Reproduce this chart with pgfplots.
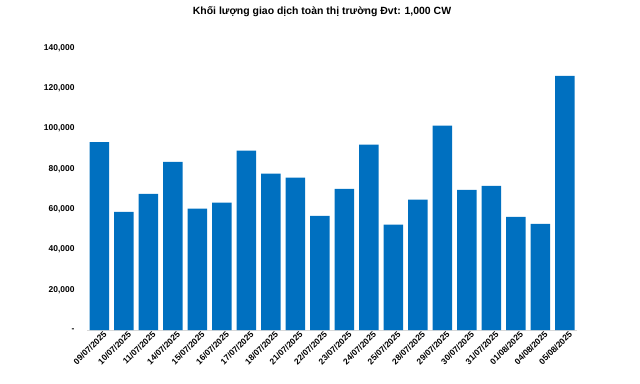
\documentclass[border=0pt]{standalone}
\usepackage{pgfplots}
\pgfplotsset{compat=1.18}
\usepackage{fontspec}
\setmainfont{Liberation Sans}
\definecolor{barblue}{HTML}{0070C0}
\definecolor{axgray}{HTML}{D9D9D9}
\begin{document}
\begin{tikzpicture}
\useasboundingbox (0,0) rectangle (640bp,384bp);
\node[font=\bfseries\fontsize{10.5}{12}\selectfont] at (322bp,372bp) {Khối lượng giao dịch toàn thị trường Đvt: 1,000 CW};
\begin{axis}[
  at={(87bp,54bp)}, anchor=south west,
  scale only axis, width=490bp, height=282bp,
  ymin=0, ymax=140000,
  xmin=-0.5, xmax=19.5,
  scaled y ticks=false,
  ytick={0,20000,40000,60000,80000,100000,120000,140000},
  yticklabels={-,{20,000},{40,000},{60,000},{80,000},{100,000},{120,000},{140,000}},
  xtick={0,...,19},
  xticklabels={09/07/2025,10/07/2025,11/07/2025,14/07/2025,15/07/2025,16/07/2025,17/07/2025,18/07/2025,21/07/2025,22/07/2025,23/07/2025,24/07/2025,25/07/2025,28/07/2025,29/07/2025,30/07/2025,31/07/2025,01/08/2025,04/08/2025,05/08/2025},
  x tick label style={rotate=45, anchor=north east, inner sep=1pt, xshift=3pt, yshift=-2pt, font=\bfseries\fontsize{8.5}{9}\selectfont},
  y tick label style={font=\bfseries\fontsize{8.5}{9}\selectfont, xshift=-9pt},
  major tick length=0pt,
  axis x line*=bottom, axis y line*=left,
  x axis line style={axgray, line width=0.8pt, -},
  y axis line style={draw=none},
  clip=false,
]
\addplot[ybar, bar width=19.5bp, fill=barblue, draw=none] coordinates {(0,93300) (1,58700) (2,67600) (3,83500) (4,60200) (5,63200) (6,89000) (7,77600) (8,75600) (9,56700) (10,70100) (11,92000) (12,52300) (13,64700) (14,101400) (15,69600) (16,71600) (17,56200) (18,52700) (19,126200)};
\end{axis}
\end{tikzpicture}
\end{document}
